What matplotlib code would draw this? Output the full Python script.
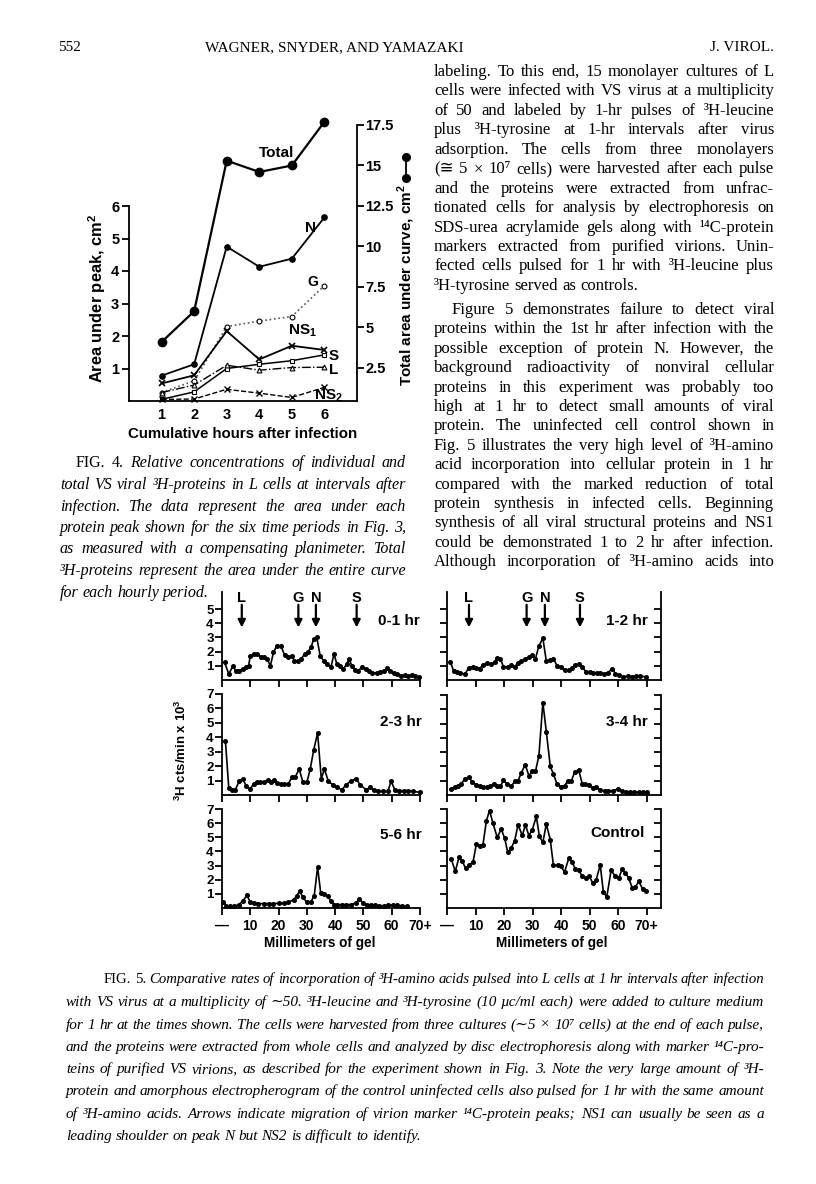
import matplotlib
matplotlib.use('Agg')
import matplotlib.pyplot as plt
from matplotlib.lines import Line2D

W, H = 816, 1184
fig = plt.figure(figsize=(8.16, 11.84), dpi=100)
fig.patch.set_facecolor('white')

SERIF = 'Liberation Serif'
SERIF_FB = ['Liberation Serif', 'DejaVu Serif', 'DejaVu Sans']
SANS = ['Liberation Sans', 'DejaVu Sans']

# ---------------- data: Fig. 4 ----------------
hours = [1, 2, 3, 4, 5, 6]
total_area = [4.1, 6.0, 15.3, 14.6, 15.0, 17.7]
n_area = [0.78, 1.13, 4.75, 4.13, 4.38, 5.65]
g_area = [0.26, 0.62, 2.29, 2.46, 2.60, 3.55]
ns1_area = [0.54, 0.79, 2.15, 1.28, 1.70, 1.57]
s_area = [0.05, 0.28, 1.00, 1.13, 1.24, 1.42]
l_area = [0.26, 0.49, 1.10, 0.95, 1.03, 1.04]
ns2_area = [0.05, 0.06, 0.36, 0.24, 0.11, 0.42]
left_ticks = [1, 2, 3, 4, 5, 6]
right_ticks = [2.5, 5, 7.5, 10, 12.5, 15, 17.5]
right_labels = ['2.5', '5', '7.5', '10', '12.5', '15', '17.5']

# ---------------- data: Fig. 5 ----------------
mm_0_1 = [0.9, 2.4, 3.8, 4.9, 6.1, 7.3, 8.5, 9.4, 10.0, 11.2, 12.4, 13.8, 14.7, 15.9, 17.1, 18.2, 19.4,
          20.8, 22.1, 23.5, 24.7, 25.6, 26.8, 28.0, 29.2, 30.4, 31.5, 32.4, 33.5, 34.7, 35.9, 37.1,
          38.5, 39.6, 40.6, 41.8, 42.9, 44.1, 44.9, 45.9, 47.1, 48.2, 49.6, 50.8, 52.0, 53.2, 54.7,
          55.9, 57.1, 58.5, 59.4, 60.8, 62.0, 63.2, 64.7, 65.9, 67.1, 68.2, 69.8]
cpm_0_1 = [1.24, 0.42, 0.96, 0.66, 0.66, 0.77, 0.94, 1.0, 1.70, 1.83, 1.83, 1.64, 1.64, 1.50, 1.00, 1.95,
           2.42, 2.42, 1.76, 1.60, 1.71, 1.36, 1.34, 1.48, 1.83, 2.00, 2.30, 2.89, 3.00, 1.71, 1.36,
           1.13, 0.89, 1.83, 1.13, 1.00, 0.77, 1.13, 1.48, 1.00, 0.70, 0.66, 0.94, 0.77, 0.66, 0.49,
           0.49, 0.54, 0.66, 0.82, 0.66, 0.47, 0.42, 0.30, 0.35, 0.30, 0.35, 0.26, 0.19]

mm_1_2 = [1.2, 2.3, 3.5, 4.7, 6.2, 7.7, 9.1, 10.3, 11.4, 12.6, 14.0, 15.5, 16.7, 17.6, 18.7, 19.8, 21.4,
          22.5, 23.7, 24.9, 26.0, 27.5, 28.7, 29.9, 31.0, 32.2, 33.6, 34.8, 36.2, 37.3, 38.6, 40.0,
          41.2, 42.7, 43.9, 44.9, 46.1, 47.4, 48.8, 50.2, 51.3, 52.5, 53.7, 55.0, 56.4, 57.9, 59.0,
          60.4, 61.8, 63.4, 64.9, 66.3, 67.7, 69.8]
cpm_1_2 = [1.27, 0.64, 0.56, 0.52, 0.40, 0.87, 0.92, 0.87, 0.80, 1.06, 1.18, 1.10, 1.27, 1.58, 1.50,
           0.92, 0.94, 1.06, 0.92, 1.22, 1.34, 1.46, 1.62, 1.74, 1.50, 2.40, 2.94, 1.34, 1.39, 1.50,
           0.99, 0.92, 0.68, 0.71, 0.87, 1.06, 1.10, 0.92, 0.56, 0.56, 0.52, 0.47, 0.52, 0.40, 0.52,
           0.80, 0.45, 0.33, 0.24, 0.28, 0.24, 0.28, 0.28, 0.21]

mm_2_3 = [1.2, 2.4, 3.5, 4.7, 6.1, 7.4, 8.6, 10.0, 11.2, 12.4, 13.5, 14.7, 16.1, 17.3, 18.5, 19.6, 20.8,
          22.0, 23.5, 24.7, 25.9, 27.3, 28.6, 30.0, 31.2, 32.4, 33.8, 35.1, 36.2, 37.6, 39.1, 40.6,
          42.4, 43.9, 45.5, 47.4, 48.8, 50.9, 52.4, 53.8, 55.3, 56.8, 58.6, 59.8, 61.2, 62.7, 64.4,
          65.9, 67.6, 70.0]
cpm_2_3 = [3.76, 0.48, 0.32, 0.37, 0.95, 1.10, 0.60, 0.42, 0.79, 0.90, 0.88, 0.90, 1.02, 0.88, 1.02,
           0.83, 0.76, 0.76, 0.76, 1.25, 1.25, 1.80, 0.88, 0.88, 1.80, 3.10, 4.30, 1.13, 1.80, 0.95,
           0.72, 0.53, 0.37, 0.72, 0.95, 1.13, 0.72, 0.37, 0.53, 0.32, 0.30, 0.25, 0.25, 0.95, 0.32,
           0.30, 0.30, 0.30, 0.25, 0.18]

mm_3_4 = [1.5, 2.7, 3.9, 5.0, 6.2, 7.7, 8.9, 10.3, 11.4, 12.6, 14.0, 15.2, 16.3, 17.5, 18.7, 19.8, 21.0,
          22.5, 23.7, 24.9, 26.0, 27.4, 28.7, 29.9, 31.0, 32.2, 33.6, 34.8, 36.2, 37.3, 38.5, 40.0,
          41.2, 42.4, 43.5, 44.7, 46.1, 47.4, 48.5, 49.9, 51.1, 52.3, 53.7, 55.2, 56.6, 58.1, 59.9,
          61.4, 62.8, 64.2, 65.7, 67.2, 68.6, 70.0]
cpm_3_4 = [0.42, 0.56, 0.60, 0.79, 1.12, 1.26, 0.88, 0.72, 0.65, 0.56, 0.56, 0.60, 0.79, 0.65, 0.60,
           1.02, 0.79, 0.60, 0.95, 1.00, 1.53, 2.12, 1.35, 1.65, 1.65, 2.74, 6.47, 4.44, 2.00, 1.47,
           0.79, 0.56, 0.65, 1.00, 0.95, 1.58, 1.77, 0.79, 0.77, 0.72, 0.49, 0.56, 0.37, 0.30, 0.30,
           0.30, 0.42, 0.26, 0.21, 0.21, 0.21, 0.21, 0.21, 0.21]

mm_5_6 = [0.35, 1.5, 2.9, 4.4, 5.9, 7.3, 8.8, 10.0, 11.4, 12.9, 14.7, 16.5, 18.2, 20.0, 21.8, 23.5, 25.3,
          26.5, 27.4, 28.6, 30.0, 31.4, 32.6, 33.8, 34.9, 36.1, 37.3, 38.5, 39.6, 40.8, 42.4, 43.9,
          45.5, 47.4, 48.6, 49.8, 51.2, 52.6, 54.1, 55.6, 57.3, 58.8, 60.6, 62.0, 63.5, 65.3]
cpm_5_6 = [0.42, 0.16, 0.12, 0.12, 0.24, 0.47, 0.89, 0.42, 0.35, 0.31, 0.31, 0.31, 0.31, 0.33, 0.33,
           0.40, 0.59, 0.87, 1.22, 0.75, 0.40, 0.42, 0.87, 2.89, 1.06, 0.99, 0.82, 0.52, 0.24, 0.24,
           0.24, 0.24, 0.24, 0.35, 0.66, 0.35, 0.24, 0.19, 0.19, 0.16, 0.16, 0.19, 0.19, 0.19, 0.16,
           0.12]

mm_ctrl = [1.5, 2.9, 4.2, 5.4, 6.5, 7.7, 9.1, 10.3, 11.4, 12.6, 13.8, 14.9, 16.1, 17.6, 19.0, 20.2, 21.3,
           22.5, 23.7, 24.9, 26.4, 27.5, 28.7, 29.9, 31.3, 32.4, 33.6, 34.8, 36.2, 37.3, 38.9, 40.0,
           41.2, 42.7, 43.9, 44.9, 46.2, 47.4, 48.8, 49.9, 51.1, 52.3, 53.7, 54.8, 56.0, 57.5, 58.9,
           60.2, 61.4, 62.5, 63.7, 64.9, 66.0, 67.2, 68.6, 69.8]
cpm_ctrl = [3.46, 2.59, 3.58, 3.29, 2.82, 3.06, 3.22, 4.54, 4.35, 4.47, 6.16, 6.89, 6.00, 4.99, 5.58,
            4.94, 3.93, 4.24, 4.75, 5.88, 5.13, 5.88, 5.11, 5.53, 6.47, 5.06, 4.64, 5.93, 4.82, 3.01,
            3.01, 2.94, 2.54, 3.53, 3.25, 2.78, 2.66, 2.24, 2.12, 2.24, 1.76, 2.00, 3.06, 1.13, 0.78,
            2.66, 2.28, 2.12, 2.75, 2.47, 2.12, 1.41, 1.48, 1.88, 1.34, 1.18]

marker_names = ['L', 'G', 'N', 'S']
marker_mm_left = [7.0, 27.0, 33.2, 47.6]
marker_mm_right = [7.7, 27.9, 34.3, 46.6]
gel_ticks = [0, 10, 20, 30, 40, 50, 60, 70]
gel_labels = ['\u2014', '10', '20', '30', '40', '50', '60', '70+']


def rect(x0, y0, x1, y1):
    return [x0 / W, 1 - y1 / H, (x1 - x0) / W, (y1 - y0) / H]


def fx(x):
    return x / W


def fy(y):
    return 1 - y / H


def ftext(x, y, s, **kw):
    return fig.text(fx(x), fy(y), s, **kw)


# ---------------- Fig. 4 ----------------
LBL = dict(family=SANS, fontweight='bold', color='black')
axL = fig.add_axes(rect(129, 206, 357, 401))
axL.set_xlim(0, 7)
axL.set_ylim(0, 6)
for sp in ['top', 'right']:
    axL.spines[sp].set_visible(False)
for sp in ['left', 'bottom']:
    axL.spines[sp].set_linewidth(1.3)
axL.set_yticks(left_ticks)
axL.set_yticklabels([str(v) for v in left_ticks], **LBL, fontsize=10.5)
axL.set_xticks(hours)
axL.set_xticklabels([str(v) for v in hours], **LBL, fontsize=10.5)
axL.tick_params(axis='y', direction='out', length=5, width=1.3, pad=2)
axL.tick_params(axis='x', length=0, pad=5)

axR = fig.add_axes(rect(129, 125, 357, 401))
axR.patch.set_visible(False)
axR.set_xlim(0, 7)
axR.set_ylim(0.46, 17.5)
for sp in ['top', 'left', 'bottom']:
    axR.spines[sp].set_visible(False)
axR.spines['right'].set_linewidth(1.3)
axR.yaxis.tick_right()
axR.set_yticks(right_ticks)
axR.set_yticklabels(right_labels, **LBL, fontsize=10.5)
axR.tick_params(axis='y', direction='out', length=5, width=1.3, pad=1)
axR.set_xticks([])

axR.plot(hours, total_area, '-o', color='black', lw=1.6, ms=6, clip_on=False)
axL.plot(hours, n_area, '-o', color='black', lw=1.3, ms=3.8, clip_on=False)
axL.plot(hours, g_area, ':o', color='#555555', lw=1.2, ms=3.5, mfc='white', mec='black', mew=0.8,
         clip_on=False)
axL.plot(hours, ns1_area, '-x', color='black', lw=1.3, ms=3.8, mew=1.2, clip_on=False)
axL.plot(hours, s_area, '-s', color='black', lw=1.1, ms=3.2, mfc='white', mew=0.8, clip_on=False)
axL.plot(hours, l_area, '-.^', color='black', lw=1.0, ms=3.5, mfc='white', mew=0.8, clip_on=False)
axL.plot(hours, ns2_area, '--x', color='black', lw=1.0, ms=3.8, mew=1.0, clip_on=False)

ftext(277, 153, 'Total', ha='center', va='center', fontsize=11, **LBL)
ftext(310, 228, 'N', ha='center', va='center', fontsize=11, **LBL)
ftext(313, 282, 'G', ha='center', va='center', fontsize=10, **LBL)
ftext(302, 331, r'NS$_\mathregular{1}$', ha='center', va='center', fontsize=11, **LBL)
ftext(334, 356, 'S', ha='center', va='center', fontsize=11, **LBL)
ftext(334, 370, 'L', ha='center', va='center', fontsize=11, **LBL)
ftext(328, 396, r'NS$_\mathregular{2}$', ha='center', va='center', fontsize=11, **LBL)

ftext(97, 298, 'Area under peak, cm$^\\mathregular{2}$', rotation=90, ha='center', va='center',
      fontsize=11.8, **LBL)
ftext(406, 285, 'Total area under curve, cm$^\\mathregular{2}$', rotation=90, ha='center',
      va='center', fontsize=11, **LBL)
ftext(243, 434, 'Cumulative hours after infection', ha='center', va='center', fontsize=10.8, **LBL)
fig.add_artist(Line2D([fx(406), fx(406)], [fy(157), fy(178)], marker='o', ms=5.5, color='black',
                      lw=1.3, transform=fig.transFigure))

# ---------------- Fig. 5 ----------------
def panel(x0, y0, x1, y1, xmax, ytop, yticks, mm, cpm, ylabels, right, xlabels):
    ax = fig.add_axes(rect(x0, y0, x1, y1))
    ax.patch.set_visible(False)
    ax.set_xlim(0, xmax)
    ax.set_ylim(0, ytop)
    ax.spines['top'].set_visible(False)
    ax.spines['right'].set_visible(right)
    for sp in ['left', 'bottom', 'right']:
        ax.spines[sp].set_linewidth(1.3)
    ax.set_xticks(gel_ticks)
    if xlabels:
        ax.set_xticklabels(gel_labels, **LBL, fontsize=10)
    else:
        ax.set_xticklabels([])
    ax.tick_params(axis='x', direction='out', length=5, width=1.3, pad=3)
    ax.set_yticks(yticks)
    if ylabels:
        ax.set_yticklabels([str(v) for v in yticks], **LBL, fontsize=9.5)
    else:
        ax.set_yticklabels([])
    ax.tick_params(axis='y', direction='out', length=5, width=1.3, pad=1)
    if right:
        ax2 = ax.twinx()
        ax2.set_ylim(0, ytop)
        for sp in ['top', 'left', 'bottom', 'right']:
            ax2.spines[sp].set_visible(False)
        ax2.set_yticks(yticks)
        ax2.set_yticklabels([])
        ax2.tick_params(axis='y', direction='in', length=5, width=1.3)
    ax.plot(mm, cpm, '-o', color='black', lw=1.2, ms=2.6, clip_on=False)
    return ax


ax01 = panel(222, 592, 420, 680, 70, 6.2, [1, 2, 3, 4, 5], mm_0_1, cpm_0_1, True, False, False)
ax12 = panel(447, 592, 661, 680, 75, 6.2, [1, 2, 3, 4, 5], mm_1_2, cpm_1_2, False, True, False)
ax23 = panel(222, 694, 420, 795, 70, 7, [1, 2, 3, 4, 5, 6, 7], mm_2_3, cpm_2_3, True, False, False)
ax34 = panel(447, 695, 661, 795, 75, 7, [1, 2, 3, 4, 5, 6, 7], mm_3_4, cpm_3_4, False, True, False)
ax56 = panel(222, 809, 420, 908, 70, 7, [1, 2, 3, 4, 5, 6, 7], mm_5_6, cpm_5_6, True, False, True)
axct = panel(447, 809, 661, 908, 75, 7, [1, 2, 3, 4, 5, 6, 7], mm_ctrl, cpm_ctrl, False, True, True)

for ax, mpos in [(ax01, marker_mm_left), (ax12, marker_mm_right)]:
    for name, m in zip(marker_names, mpos):
        ax.annotate('', xy=(m, 3.7), xytext=(m, 5.3),
                    arrowprops=dict(arrowstyle='-|>', lw=1.6, color='black', mutation_scale=11,
                                    shrinkA=0, shrinkB=0))
        ax.text(m, 5.8, name, ha='center', va='center', fontsize=10.5, **LBL)

ftext(420, 621, '0-1 hr', ha='right', va='center', fontsize=11, **LBL)
ftext(648, 621, '1-2 hr', ha='right', va='center', fontsize=11, **LBL)
ftext(422, 722, '2-3 hr', ha='right', va='center', fontsize=11, **LBL)
ftext(648, 722, '3-4 hr', ha='right', va='center', fontsize=11, **LBL)
ftext(422, 835, '5-6 hr', ha='right', va='center', fontsize=11, **LBL)
ftext(645, 833, 'Control', ha='right', va='center', fontsize=11, **LBL)
ftext(181, 750, '$^\\mathregular{3}$H cts/min x 10$^\\mathregular{3}$', rotation=90, ha='center',
      va='center', fontsize=9.5, **LBL)
ftext(320, 943, 'Millimeters of gel', ha='center', va='center', fontsize=9.8, **LBL)
ftext(552, 943, 'Millimeters of gel', ha='center', va='center', fontsize=9.8, **LBL)

# ---------------- page text ----------------
renderer = fig.canvas.get_renderer()


def place_line(words, x0, x1, y, size, style, justify):
    objs = []
    for w in words:
        st = style
        if w.startswith('\u00a7'):
            w = w[1:]
            st = 'normal'
        fam = SERIF if all(ord(c) < 256 for c in w) else SERIF_FB
        t = ftext(x0, y, w, fontsize=size, fontstyle=st, family=fam, va='baseline', ha='left')
        objs.append(t)
    widths = [t.get_window_extent(renderer).width for t in objs]
    sp = size * 100 / 72 * 0.25
    natural = sum(widths) + sp * (len(objs) - 1)
    avail = x1 - x0
    if natural > avail:
        f = avail / natural
        for t in objs:
            t.set_fontsize(size * f)
        widths = [t.get_window_extent(renderer).width for t in objs]
        sp = sp * f
    if justify and len(objs) > 1:
        gap = (avail - sum(widths)) / (len(objs) - 1)
    else:
        gap = sp
    x = x0
    for t, wdt in zip(objs, widths):
        t.set_x(fx(x))
        x += wdt + gap


def block(lines, x0, x1, ys, size, style='normal', indent=None, nojust=()):
    indent = indent or {}
    for i, (ln, y) in enumerate(zip(lines, ys)):
        place_line(ln.split(' '), x0 + indent.get(i, 0), x1, y + 4, size, style, i not in nojust)


# header
ftext(58, 51, '552', family=SERIF, fontsize=11, va='baseline', ha='left')
ftext(334, 51, 'WAGNER, SNYDER, AND YAMAZAKI', family=SERIF, fontsize=11, va='baseline', ha='center')
ftext(774, 51, 'J. VIROL.', family=SERIF, fontsize=11, va='baseline', ha='right')

body = [
    'labeling. To this end, 15 monolayer cultures of L',
    'cells were infected with VS virus at a multiplicity',
    'of 50 and labeled by 1-hr pulses of \u00b3H-leucine',
    'plus \u00b3H-tyrosine at 1-hr intervals after virus',
    'adsorption. The cells from three monolayers',
    '(\u2245 5 \u00d7 10\u2077 cells) were harvested after each pulse',
    'and the proteins were extracted from unfrac-',
    'tionated cells for analysis by electrophoresis on',
    'SDS-urea acrylamide gels along with \u00b9\u2074C-protein',
    'markers extracted from purified virions. Unin-',
    'fected cells pulsed for 1 hr with \u00b3H-leucine plus',
    '\u00b3H-tyrosine served as controls.',
    'Figure 5 demonstrates failure to detect viral',
    'proteins within the 1st hr after infection with the',
    'possible exception of protein N. However, the',
    'background radioactivity of nonviral cellular',
    'proteins in this experiment was probably too',
    'high at 1 hr to detect small amounts of viral',
    'protein. The uninfected cell control shown in',
    'Fig. 5 illustrates the very high level of \u00b3H-amino',
    'acid incorporation into cellular protein in 1 hr',
    'compared with the marked reduction of total',
    'protein synthesis in infected cells. Beginning',
    'synthesis of all viral structural proteins and NS1',
    'could be demonstrated 1 to 2 hr after infection.',
    'Although incorporation of \u00b3H-amino acids into',
]
body_y = [72 + 19.45 * i for i in range(12)] + [310 + 19.4 * j for j in range(14)]
block(body, 434, 774, body_y, 12, indent={12: 18}, nojust=(11,))

cap4 = [
    '\u00a7FIG. \u00a74. Relative concentrations of individual and',
    'total VS viral \u00b3H-proteins in L cells at intervals after',
    'infection. The data represent the area under each',
    'protein peak shown for the six time periods in Fig. 3,',
    'as measured with a compensating planimeter. Total',
    '\u00b3H-proteins represent the area under the entire curve',
    'for each hourly period.',
]
cap4_y = [463, 485, 507, 528, 549, 571, 593]
block(cap4, 60, 406, cap4_y, 11.5, style='italic', indent={0: 16}, nojust=(6,))

cap5 = [
    '\u00a7FIG. \u00a75. Comparative rates of incorporation of \u00b3H-amino acids pulsed into L cells at 1 hr intervals after infection',
    'with VS virus at a multiplicity of \u223c50. \u00b3H-leucine and \u00b3H-tyrosine (10 \u00b5c/ml each) were added to culture medium',
    'for 1 hr at the times shown. The cells were harvested from three cultures (\u223c5 \u00d7 10\u2077 cells) at the end of each pulse,',
    'and the proteins were extracted from whole cells and analyzed by disc electrophoresis along with marker \u00b9\u2074C-pro-',
    'teins of purified VS virions, as described for the experiment shown in Fig. 3. Note the very large amount of \u00b3H-',
    'protein and amorphous electropherogram of the control uninfected cells also pulsed for 1 hr with the same amount',
    'of \u00b3H-amino acids. Arrows indicate migration of virion marker \u00b9\u2074C-protein peaks; NS1 can usually be seen as a',
    'leading shoulder on peak N but NS2 is difficult to identify.',
]
cap5_y = [979, 1002, 1025, 1047, 1069, 1091, 1114, 1136]
block(cap5, 66, 764, cap5_y, 11, style='italic', indent={0: 38}, nojust=(7,))

fig.savefig('out.png', dpi=100, facecolor='white')
